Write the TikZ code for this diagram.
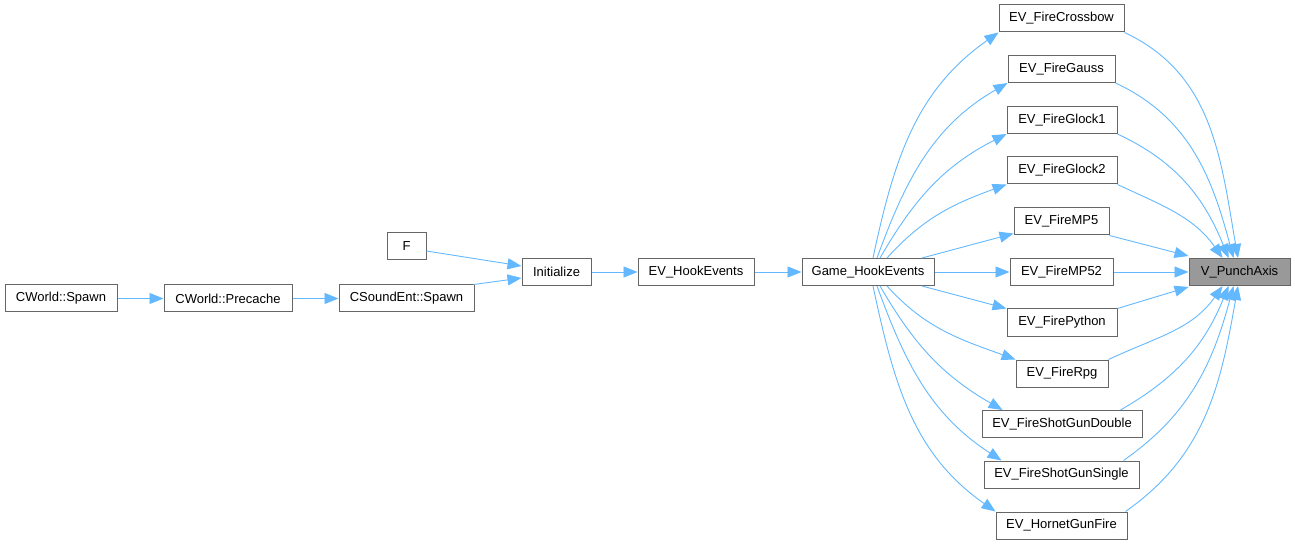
\documentclass[tikz,border=0pt]{standalone}
\usepackage{fontspec}
\setmainfont{Liberation Sans}
\usetikzlibrary{arrows.meta}
\definecolor{edgeblue}{HTML}{63B8FF}
\definecolor{nodeborder}{HTML}{666666}
\definecolor{rootfill}{HTML}{999999}
\tikzset{
  fn/.style={draw=nodeborder, line width=1pt, fill=white, minimum height=27pt, inner sep=0pt,
             font=\fontsize{13}{15}\selectfont, text=black},
  rootfn/.style={fn, fill=rootfill},
  call/.style={draw=edgeblue, line width=0.9pt, -{Triangle[length=14pt,width=11pt]}},
}
\begin{document}
\begin{tikzpicture}[x=1pt,y=1pt]
\useasboundingbox (0,0) rectangle (1295,544);
% left part
\node[fn, minimum width=112pt] (cws) at (61,245.5) {CWorld::Spawn};
\node[fn, minimum width=128pt] (cwp) at (228,245.5) {CWorld::Precache};
\node[fn, minimum width=135pt] (cse) at (406.5,245.5) {CSoundEnt::Spawn};
\node[fn, minimum width=39pt] (f) at (406.5,297.5) {F};
\node[fn, minimum width=69pt] (init) at (556.5,272) {Initialize};
\node[fn, minimum width=116pt] (hook) at (696,272) {EV\_HookEvents};
\node[fn, minimum width=132pt] (gh) at (868,272) {Game\_HookEvents};
% right column
\node[fn, minimum width=125pt] (cb) at (1061.5,525.5) {EV\_FireCrossbow};
\node[fn, minimum width=107pt] (ga) at (1061.5,475) {EV\_FireGauss};
\node[fn, minimum width=110pt] (g1) at (1062,424) {EV\_FireGlock1};
\node[fn, minimum width=110pt] (g2) at (1062,373.5) {EV\_FireGlock2};
\node[fn, minimum width=95pt] (mp5) at (1061.5,322.5) {EV\_FireMP5};
\node[fn, minimum width=103pt] (mp52) at (1061.5,272) {EV\_FireMP52};
\node[fn, minimum width=110pt] (py) at (1062,221.5) {EV\_FirePython};
\node[fn, minimum width=92pt] (rpg) at (1062,170.5) {EV\_FireRpg};
\node[fn, minimum width=160pt] (sd) at (1062,120) {EV\_FireShotGunDouble};
\node[fn, minimum width=155pt] (ss) at (1061.5,69.5) {EV\_FireShotGunSingle};
\node[fn, minimum width=131pt] (hg) at (1061.5,18.5) {EV\_HornetGunFire};
\node[rootfn, minimum width=101pt] (vp) at (1239.5,272) {V\_PunchAxis};
% left edges
\draw[call] (cws.east) -- (cwp.west);
\draw[call] (cwp.east) -- (cse.west);
\draw[call] ([yshift=-4.5pt]f.east) -- ([yshift=6pt]init.west);
\draw[call] ([xshift=-1pt]cse.north east) -- ([yshift=-6pt]init.west);
\draw[call] (init.east) -- (hook.west);
\draw[call] (hook.east) -- (gh.west);
% Game_HookEvents to handlers
\draw[call] ([xshift=5pt]gh.north) to[out=78,in=215] (cb.south west);
\draw[call] ([xshift=9pt]gh.north) to[out=70,in=210] (ga.south west);
\draw[call] ([xshift=12pt]gh.north) to[out=60,in=207] (g1.south west);
\draw[call] ([xshift=19pt]gh.north) to[out=48,in=200] (g2.south west);
\draw[call] ([xshift=54pt]gh.north) -- ([yshift=2pt]mp5.south west);
\draw[call] (gh.east) -- (mp52.west);
\draw[call] ([xshift=54pt]gh.south) -- (py.north west);
\draw[call] ([xshift=19pt]gh.south) to[out=-48,in=160] (rpg.north west);
\draw[call] ([xshift=12pt]gh.south) to[out=-60,in=150] ([xshift=21pt]sd.north west);
\draw[call] ([xshift=9pt]gh.south) to[out=-70,in=147] ([xshift=18pt]ss.north west);
\draw[call] ([xshift=5pt]gh.south) to[out=-78,in=145] (hg.north west);
% handlers to V_PunchAxis
\draw[call] (cb.south east) to[out=-25,in=100] ([xshift=-1.5pt]vp.north);
\draw[call] (ga.south east) to[out=-25,in=105] ([xshift=-6pt]vp.north);
\draw[call] (g1.south east) to[out=-25,in=112] ([xshift=-11pt]vp.north);
\draw[call] (g2.south east) to[out=-25,in=125] ([xshift=-17pt]vp.north);
\draw[call] (mp5.south east) -- ([yshift=2pt]vp.north west);
\draw[call] (mp52.east) -- (vp.west);
\draw[call] (py.north east) -- ([yshift=-1pt]vp.south west);
\draw[call] (rpg.north east) to[out=25,in=235] ([xshift=-17pt]vp.south);
\draw[call] ([xshift=-22pt]sd.north east) to[out=30,in=248] ([xshift=-11pt]vp.south);
\draw[call] ([xshift=-16pt]ss.north east) to[out=35,in=255] ([xshift=-6pt]vp.south);
\draw[call] ([xshift=-2pt]hg.north east) to[out=35,in=260] ([xshift=-1.5pt]vp.south);
\end{tikzpicture}
\end{document}
